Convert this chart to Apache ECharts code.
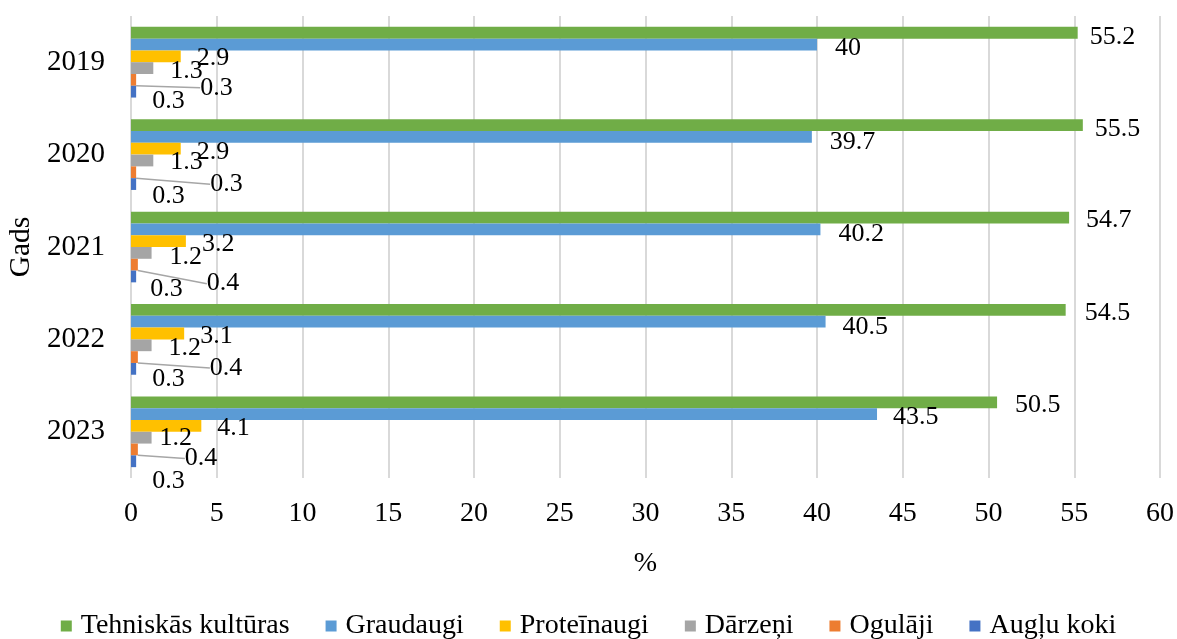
<!DOCTYPE html>
<html>
<head>
<meta charset="utf-8">
<script src="https://cdn.jsdelivr.net/npm/echarts@6/dist/echarts.min.js"></script>
<style>
  html, body { margin: 0; padding: 0; background: #fff; }
  #chart { width: 1177px; height: 639px; }
</style>
</head>
<body>
<div id="chart"></div>
<script>
// dati
const years = ["2019", "2020", "2021", "2022", "2023"];
const seriesNames = ["Tehniskās kultūras", "Graudaugi", "Proteīnaugi", "Dārzeņi", "Ogulāji", "Augļu koki"];
const tehniskas = [55.2, 55.5, 54.7, 54.5, 50.5];
const graudaugi = [40, 39.7, 40.2, 40.5, 43.5];
const proteinaugi = [2.9, 2.9, 3.2, 3.1, 4.1];
const darzeni = [1.3, 1.3, 1.2, 1.2, 1.2];
const ogulaji = [0.3, 0.3, 0.4, 0.4, 0.4];
const auglukoki = [0.3, 0.3, 0.3, 0.3, 0.3];
const xTicks = { min: 0, max: 60, step: 5 };

const colors = ["#70ad47", "#5b9bd5", "#ffc000", "#a5a5a5", "#ed7d31", "#4472c4"];
const font = "'Liberation Serif', 'Times New Roman', serif";

// label nudges [dx, dy] per series / year (like the Excel label placement)
const labelShift = [
  [[-4, 2], [-4, 2], [1, 1], [3, 1], [2, 1]],
  [[2, 2], [2, 3], [2, 3], [1, 3], [0, 1]],
  [[0, 0], [0, 1], [0, 1], [0, 1], [0, 0]],
  [[1, 1], [1, 0], [2, 2], [1, 1], [-8, -2]],
  [[48, 6], [58, 10], [53, 17], [56, 9], [31, 7]],
  [[0, 8], [0, 10], [-2, 11], [0, 8], [0, 18]]
];
const labelBaseDy = 2;

const allData = [tehniskas, graudaugi, proteinaugi, darzeni, ogulaji, auglukoki];

const chart = echarts.init(document.getElementById("chart"));
chart.setOption({
  animation: false,
  textStyle: { fontFamily: font },
  grid: { left: 131, right: 17, top: 16, bottom: 161, outerBoundsMode: "none" },
  legend: {
    top: 607,
    left: "center",
    icon: "rect",
    itemWidth: 11,
    itemHeight: 11,
    itemGap: 36,
    data: seriesNames,
    textStyle: { fontFamily: font, fontSize: 28, color: "#000", padding: [0, 0, 0, 4] }
  },
  xAxis: {
    type: "value",
    min: xTicks.min,
    max: xTicks.max,
    interval: xTicks.step,
    name: "%",
    nameLocation: "middle",
    nameGap: 72,
    nameTextStyle: { fontFamily: font, fontSize: 28, color: "#000" },
    axisLine: { show: false },
    axisTick: { show: false },
    axisLabel: { margin: 22, fontFamily: font, fontSize: 28, color: "#000" },
    splitLine: { show: true, lineStyle: { color: "#d9d9d9", width: 2 } }
  },
  yAxis: {
    type: "category",
    inverse: true,
    data: years,
    name: "Gads",
    nameLocation: "middle",
    nameRotate: 90,
    nameGap: 88,
    nameTextStyle: { fontFamily: font, fontSize: 29.5, color: "#000" },
    axisLine: { show: false },
    axisTick: { show: false },
    axisLabel: { margin: 26, fontFamily: font, fontSize: 29, color: "#000", padding: [6, 0, 0, 0] }
  },
  series: seriesNames.map((name, i) => ({
    name,
    type: "bar",
    data: allData[i],
    barGap: 0,
    barCategoryGap: "23.5%",
    itemStyle: { color: colors[i] },
    label: {
      show: true,
      position: "right",
      distance: 16,
      fontFamily: font,
      fontSize: 26,
      color: "#000"
    },
    labelLine: {
      show: i === 4,
      lineStyle: { color: "#a6a6a6", width: 1.5 }
    },
    labelLayout: (params) => {
      const s = labelShift[params.seriesIndex][params.dataIndex];
      return { dx: s[0], dy: s[1] + labelBaseDy };
    }
  }))
});
</script>
</body>
</html>
